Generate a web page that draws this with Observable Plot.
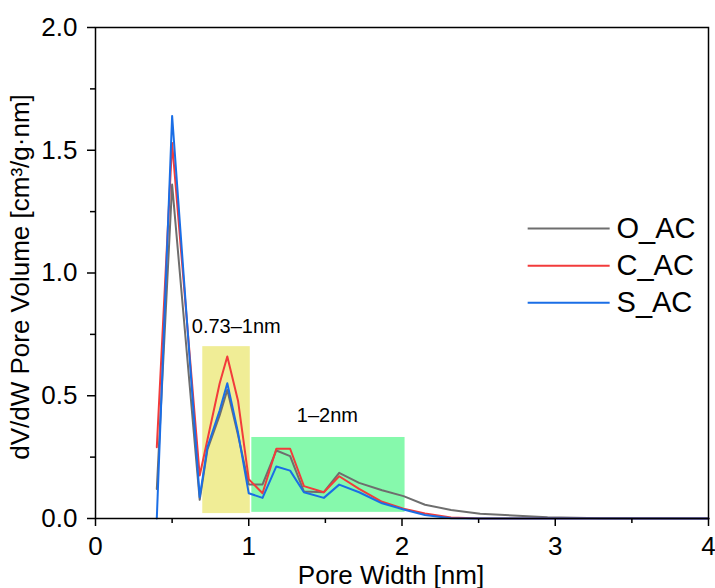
<!DOCTYPE html>
<html><head><meta charset="utf-8">
<script src="https://cdn.jsdelivr.net/npm/d3@7"></script>
<script src="https://cdn.jsdelivr.net/npm/@observablehq/plot@0.6"></script>
<style>body{margin:0;background:#fff;}</style>
</head><body><div id="chart"></div>
<script>
// ---- data ----
const poreWidth = [0.40, 0.50, 0.68, 0.73, 0.81, 0.86, 0.93, 1.00, 1.09, 1.18, 1.27, 1.36, 1.49, 1.59, 1.72, 1.87, 2.01, 2.15, 2.32, 2.51, 2.95, 3.30, 4.00];
const O_AC = [0.12, 1.36, 0.076, 0.28, 0.42, 0.524, 0.34, 0.139, 0.139, 0.277, 0.254, 0.110, 0.107, 0.186, 0.145, 0.115, 0.091, 0.056, 0.035, 0.019, 0.005, 0.001, 0.0];
const C_AC = [0.29, 1.53, 0.175, 0.32, 0.55, 0.660, 0.48, 0.160, 0.103, 0.284, 0.284, 0.132, 0.107, 0.172, 0.121, 0.068, 0.040, 0.020, 0.004, 0.0, 0.0, 0.0, 0.0];
const S_AC = [0.00, 1.64, 0.087, 0.29, 0.44, 0.551, 0.35, 0.103, 0.084, 0.212, 0.195, 0.107, 0.084, 0.138, 0.107, 0.062, 0.037, 0.014, 0.001, 0.0, 0.0, 0.0, 0.0];
const seriesNames = ["O_AC", "C_AC", "S_AC"];
const seriesValues = [O_AC, C_AC, S_AC];
const xTicks = [0, 1, 2, 3, 4];
const xMinorTicks = [0.5, 1.5, 2.5, 3.5];
const yTicks = [0, 0.5, 1.0, 1.5, 2.0];
const yMinorTicks = [0.25, 0.75, 1.25, 1.75];
// highlighted pore ranges (annotation boxes) and their labels
const regionLabels = ["0.73–1nm", "1–2nm"];
const regionX1 = [0.70, 1.02];
const regionX2 = [1.01, 2.02];
const regionY1 = [0.02, 0.025];
const regionY2 = [0.70, 0.33];

// ---- styling / layout ----
const colors = ["#6e6e6e", "#f23b3b", "#1a6ee6"];
const regionFill = ["#f0ed96", "#86f9ac"];
const font = "'Liberation Sans', Arial, sans-serif";

const rows = [];
seriesNames.forEach((s, k) => poreWidth.forEach((w, i) => rows.push({series: s, w, v: seriesValues[k][i]})));
const regions = regionLabels.map((label, i) => ({label, x1: regionX1[i], x2: regionX2[i], y1: regionY1[i], y2: regionY2[i], fill: regionFill[i]}));

// legend layout (in data units)
const legX1 = 2.82, legX2 = 3.355, legTextX = 3.40, legY0 = 1.181, legStep = 0.151;
const legend = seriesNames.map((s, i) => ({s, y: legY0 - i * legStep, c: colors[i]}));

const chart = Plot.plot({
  width: 715, height: 588,
  marginLeft: 95, marginRight: 7, marginTop: 27, marginBottom: 70,
  style: {fontFamily: font, background: "#fff", color: "#000"},
  x: {domain: [0, 4], axis: null},
  y: {domain: [0, 2], axis: null},
  color: {domain: seriesNames, range: colors},
  marks: [
    Plot.rect(regions, {x1: "x1", x2: "x2", y1: "y1", y2: "y2", fill: "fill"}),
    Plot.text([regions[0]], {x: "x1", y: "y2", text: "label", textAnchor: "start", dx: -11, dy: -20, fontSize: 20}),
    Plot.text([regions[1]], {x: d => (d.x1 + d.x2) / 2, y: "y2", text: "label", dy: -22, dx: -1, fontSize: 20}),
    Plot.line(rows, {x: "w", y: "v", z: "series", stroke: "series", strokeWidth: 2, curve: "linear"}),
    Plot.frame({stroke: "#000", strokeWidth: 1.5}),
    Plot.axisX(xTicks, {tickSize: 8, tickPadding: 10, fontSize: 26, strokeWidth: 1.5, label: null, tickFormat: d => String(d)}),
    Plot.axisX(xMinorTicks, {tickSize: 5, strokeWidth: 1.5, label: null, tickFormat: () => ""}),
    Plot.axisY(yTicks, {tickSize: 8, tickPadding: 10, fontSize: 26, strokeWidth: 1.5, label: null, tickFormat: d3.format(".1f")}),
    Plot.axisY(yMinorTicks, {tickSize: 5, strokeWidth: 1.5, label: null, tickFormat: () => ""}),
    Plot.text(["Pore Width [nm]"], {frameAnchor: "bottom", textAnchor: "middle", lineAnchor: "bottom", dy: 65, dx: -11, fontSize: 26}),
    Plot.text(["dV/dW Pore Volume [cm³/g·nm]"], {frameAnchor: "left", textAnchor: "middle", lineAnchor: "middle", rotate: -90, dx: -75, dy: 4, fontSize: 26}),
    Plot.link(legend, {x1: () => legX1, x2: () => legX2, y1: "y", y2: "y", stroke: "c", strokeWidth: 2}),
    Plot.text(legend, {x: () => legTextX, y: "y", text: "s", textAnchor: "start", fontSize: 29})
  ]
});
document.getElementById("chart").appendChild(chart);
</script>
</body></html>
